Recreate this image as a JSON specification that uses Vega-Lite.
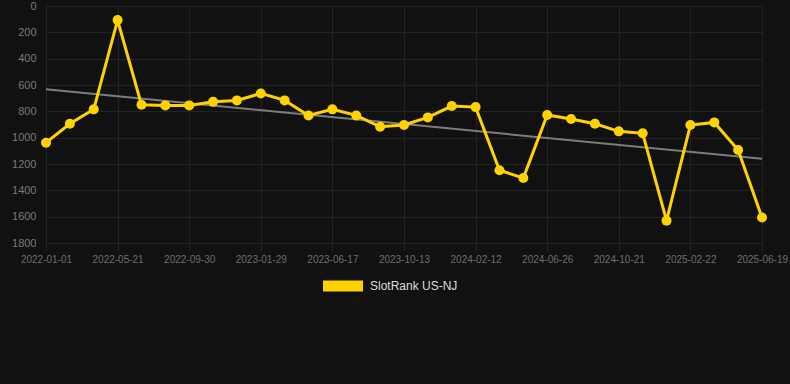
{
  "$schema": "https://vega.github.io/schema/vega-lite/v6.json",
  "width": 744,
  "height": 237,
  "autosize": {"type": "none"},
  "padding": {"left": 46, "top": 6, "right": 0, "bottom": 141},
  "background": "#111111",
  "config": {"view": {"stroke": null}, "font": "Liberation Sans"},
  "datasets": {
    "ranks": [
      {"date": "2022-01-01", "rank": 1038, "series": "SlotRank US-NJ"},
      {"date": "2022-02-16", "rank": 894, "series": "SlotRank US-NJ"},
      {"date": "2022-04-04", "rank": 785, "series": "SlotRank US-NJ"},
      {"date": "2022-05-21", "rank": 107, "series": "SlotRank US-NJ"},
      {"date": "2022-07-04", "rank": 750, "series": "SlotRank US-NJ"},
      {"date": "2022-08-17", "rank": 755, "series": "SlotRank US-NJ"},
      {"date": "2022-09-30", "rank": 755, "series": "SlotRank US-NJ"},
      {"date": "2022-11-09", "rank": 728, "series": "SlotRank US-NJ"},
      {"date": "2022-12-19", "rank": 717, "series": "SlotRank US-NJ"},
      {"date": "2023-01-29", "rank": 664, "series": "SlotRank US-NJ"},
      {"date": "2023-03-16", "rank": 717, "series": "SlotRank US-NJ"},
      {"date": "2023-05-01", "rank": 831, "series": "SlotRank US-NJ"},
      {"date": "2023-06-17", "rank": 785, "series": "SlotRank US-NJ"},
      {"date": "2023-07-27", "rank": 831, "series": "SlotRank US-NJ"},
      {"date": "2023-09-04", "rank": 917, "series": "SlotRank US-NJ"},
      {"date": "2023-10-13", "rank": 904, "series": "SlotRank US-NJ"},
      {"date": "2023-11-21", "rank": 846, "series": "SlotRank US-NJ"},
      {"date": "2024-01-01", "rank": 760, "series": "SlotRank US-NJ"},
      {"date": "2024-02-12", "rank": 768, "series": "SlotRank US-NJ"},
      {"date": "2024-03-27", "rank": 1247, "series": "SlotRank US-NJ"},
      {"date": "2024-05-11", "rank": 1307, "series": "SlotRank US-NJ"},
      {"date": "2024-06-26", "rank": 828, "series": "SlotRank US-NJ"},
      {"date": "2024-08-04", "rank": 858, "series": "SlotRank US-NJ"},
      {"date": "2024-09-12", "rank": 894, "series": "SlotRank US-NJ"},
      {"date": "2024-10-21", "rank": 952, "series": "SlotRank US-NJ"},
      {"date": "2024-12-03", "rank": 967, "series": "SlotRank US-NJ"},
      {"date": "2025-01-12", "rank": 1630, "series": "SlotRank US-NJ"},
      {"date": "2025-02-22", "rank": 904, "series": "SlotRank US-NJ"},
      {"date": "2025-04-01", "rank": 884, "series": "SlotRank US-NJ"},
      {"date": "2025-05-10", "rank": 1093, "series": "SlotRank US-NJ"},
      {"date": "2025-06-19", "rank": 1607, "series": "SlotRank US-NJ"}
    ],
    "trend": [
      {"date": "2022-01-01", "rank": 632},
      {"date": "2025-06-19", "rank": 1161}
    ]
  },
  "encoding": {
    "x": {
      "field": "date",
      "type": "ordinal",
      "sort": "ascending",
      "scale": {"type": "point", "range": [0, 716], "padding": 0},
      "axis": {
        "title": null,
        "labelAngle": 0,
        "values": ["2022-01-01", "2022-05-21", "2022-09-30", "2023-01-29", "2023-06-17", "2023-10-13", "2024-02-12", "2024-06-26", "2024-10-21", "2025-02-22", "2025-06-19"],
        "grid": true,
        "gridColor": "#232323",
        "gridWidth": 1,
        "domain": false,
        "ticks": true,
        "tickColor": "#232323",
        "tickSize": 8,
        "labelPadding": 3,
        "labelColor": "#6e6e6e",
        "labelFontSize": 10,
        "labelFont": "Liberation Sans"
      }
    },
    "y": {
      "field": "rank",
      "type": "quantitative",
      "scale": {"domain": [0, 1800], "reverse": true, "nice": false, "zero": true},
      "axis": {
        "title": null,
        "values": [0, 200, 400, 600, 800, 1000, 1200, 1400, 1600, 1800],
        "format": "d",
        "grid": true,
        "gridColor": "#232323",
        "gridWidth": 1,
        "domain": false,
        "ticks": false,
        "labelPadding": 10,
        "labelColor": "#7a7a7a",
        "labelFontSize": 11,
        "labelFont": "Liberation Sans"
      }
    }
  },
  "layer": [
    {
      "data": {"name": "trend"},
      "mark": {"type": "line", "color": "#7d7d7d", "strokeWidth": 2},
      "encoding": {}
    },
    {
      "data": {"name": "ranks"},
      "mark": {"type": "line", "strokeWidth": 3, "point": {"size": 100, "filled": true, "opacity": 1}},
      "encoding": {
        "color": {
          "field": "series",
          "type": "nominal",
          "scale": {"range": ["#FFD200"]},
          "legend": {
            "title": null,
            "orient": "none",
            "legendX": 277,
            "legendY": 260,
            "symbolType": "M-1,-0.275L1,-0.275L1,0.275L-1,0.275Z",
            "symbolSize": 1600,
            "symbolStrokeWidth": 0,
            "labelColor": "#dddddd",
            "labelFontSize": 12,
            "labelFont": "Liberation Sans",
            "labelOffset": 7,
            "encode": {"symbols": {"update": {"fill": {"value": "#FFD200"}, "strokeWidth": {"value": 0}, "opacity": {"value": 1}}}}
          }
        }
      }
    }
  ]
}
